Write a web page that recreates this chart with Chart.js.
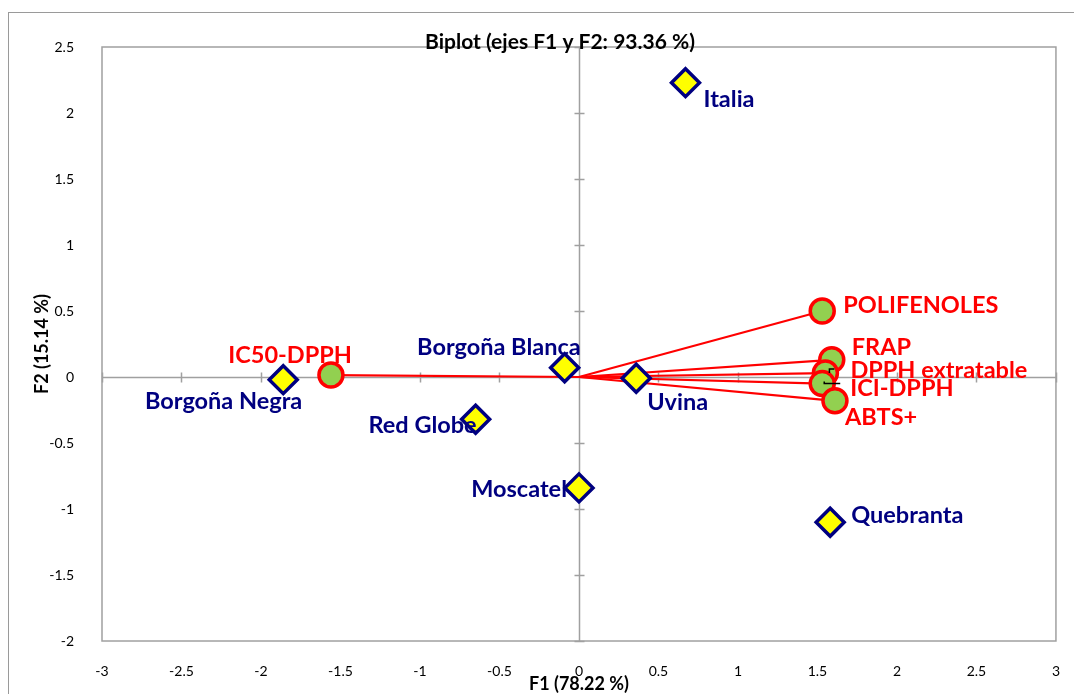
<!DOCTYPE html>
<html>
<head>
<meta charset="utf-8">
<script src="https://cdn.jsdelivr.net/npm/chart.js@4/dist/chart.umd.min.js"></script>
<style>
  html, body { margin: 0; padding: 0; background: #fff; }
  #wrap { width: 1074px; height: 694px; position: relative; }
</style>
</head>
<body>
<div id="wrap"><canvas id="biplot"></canvas></div>
<script>
// observaciones (variedades)
const obsNames = ['Italia', 'Borgoña Negra', 'Borgoña Blanca', 'Red Globe', 'Moscatel', 'Uvina', 'Quebranta'];
const obsF1 = [0.67, -1.86, -0.09, -0.65, 0.0, 0.36, 1.58];
const obsF2 = [2.23, -0.02, 0.07, -0.32, -0.84, -0.01, -1.10];

// variables (vectores desde el origen)
const varNames = ['IC50-DPPH', 'POLIFENOLES', 'FRAP', 'DPPH extratable', 'ICI-DPPH', 'ABTS+'];
const varF1 = [-1.56, 1.53, 1.59, 1.55, 1.53, 1.61];
const varF2 = [0.015, 0.50, 0.13, 0.03, -0.05, -0.18];

const xTicks = [-3, -2.5, -2, -1.5, -1, -0.5, 0, 0.5, 1, 1.5, 2, 2.5, 3];
const yTicks = [-2, -1.5, -1, -0.5, 0, 0.5, 1, 1.5, 2, 2.5];

const titleText = 'Biplot (ejes F1 y F2: 93.36 %)';
const xTitle = 'F1 (78.22 %)';
const yTitle = 'F2 (15.14 %)';

// donde va cada etiqueta respecto a su punto: [dx, dy, align]
const labelPos = {
    'Italia': [18, 17, 'left'],
    'Borgoña Negra': [19, 22, 'right'],
    'Borgoña Blanca': [16, -20, 'right'],
    'Red Globe': [1, 6, 'right'],
    'Moscatel': [-12, 2, 'right'],
    'Uvina': [11, 24, 'left'],
    'Quebranta': [21, -7, 'left'],
    'IC50-DPPH': [21, -20, 'right'],
    'POLIFENOLES': [21, -6, 'left'],
    'FRAP': [20, -12, 'left'],
    'DPPH extratable': [25, -3, 'left'],
    'ICI-DPPH': [28, 5, 'left'],
    'ABTS+': [10, 17, 'left']
};
// lineas guia (negras) de algunas etiquetas
const leaders = {
    'DPPH extratable': [[4, 0], [4, -4], [9, -4]],
    'ICI-DPPH': [[2, -2], [2, 0], [18, 0]]
};

const NAVY = '#000080';
const RED = '#FF0000';
const AXIS_GREY = '#A0A0A0';

const vectorSets = varNames.map((n, i) => ({
    type: 'scatter',
    label: 'v-' + n,
    data: [{x: 0, y: 0}, {x: varF1[i], y: varF2[i]}],
    showLine: true,
    borderColor: RED,
    borderWidth: 2.25,
    pointRadius: 0,
    order: 3
}));

const frame = {
    id: 'frame',
    beforeDatasetsDraw(chart) {
        const {ctx, chartArea: a, scales: {x, y}} = chart;
        ctx.save();
        // borde exterior del grafico
        ctx.strokeStyle = '#9a9a9a';
        ctx.lineWidth = 1;
        ctx.strokeRect(8.5, 12.5, 1200, 900);
        // area de trazado
        ctx.strokeStyle = AXIS_GREY;
        ctx.lineWidth = 1.5;
        ctx.strokeRect(a.left, a.top, a.right - a.left, a.bottom - a.top);
        // ejes que pasan por cero
        const x0 = Math.round(x.getPixelForValue(0)) + 0.5;
        const y0 = Math.round(y.getPixelForValue(0)) + 0.5;
        ctx.beginPath();
        ctx.moveTo(x0, a.top); ctx.lineTo(x0, a.bottom);
        ctx.moveTo(a.left, y0); ctx.lineTo(a.right, y0);
        xTicks.forEach(v => {
            const px = Math.round(x.getPixelForValue(v)) + 0.5;
            ctx.moveTo(px, y0 - 5); ctx.lineTo(px, y0 + 5);
        });
        yTicks.forEach(v => {
            const py = Math.round(y.getPixelForValue(v)) + 0.5;
            ctx.moveTo(x0 - 5, py); ctx.lineTo(x0 + 5, py);
        });
        ctx.stroke();
        ctx.restore();
    },
    afterDraw(chart) {
        const {ctx, chartArea: a} = chart;
        ctx.save();
        ctx.fillStyle = '#000';
        ctx.textAlign = 'center';
        ctx.textBaseline = 'middle';
        ctx.font = 'bold 21px Lato';
        ctx.fillText(titleText, 560, 42);
        ctx.font = 'bold 18px Lato';
        ctx.fillText(xTitle, (a.left + a.right) / 2, 684);
        ctx.translate(42, (a.top + a.bottom) / 2);
        ctx.rotate(-Math.PI / 2);
        ctx.fillText(yTitle, 0, 0);
        ctx.restore();
    }
};

const pointLabels = {
    id: 'pointLabels',
    afterDatasetsDraw(chart) {
        const ctx = chart.ctx;
        ctx.save();
        ctx.font = 'bold 23.5px Lato';
        ctx.textBaseline = 'middle';
        const draw = (dsIndex, names, color) => {
            const meta = chart.getDatasetMeta(dsIndex);
            names.forEach((n, i) => {
                const p = meta.data[i];
                const pos = labelPos[n];
                if (leaders[n]) {
                    ctx.strokeStyle = '#000';
                    ctx.lineWidth = 1.5;
                    ctx.beginPath();
                    leaders[n].forEach((q, k) => {
                        if (k === 0) ctx.moveTo(p.x + q[0], p.y + q[1]);
                        else ctx.lineTo(p.x + q[0], p.y + q[1]);
                    });
                    ctx.stroke();
                }
                ctx.fillStyle = color;
                ctx.textAlign = pos[2];
                ctx.fillText(n, p.x + pos[0], p.y + pos[1]);
            });
        };
        const nv = vectorSets.length;
        draw(nv, varNames, RED);
        draw(nv + 1, obsNames, NAVY);
        ctx.restore();
    }
};

const tickFont = {family: 'Lato', size: 14};

new Chart(document.getElementById('biplot'), {
    type: 'scatter',
    data: {
        datasets: [
            ...vectorSets,
            {
                label: 'Variables',
                data: varF1.map((v, i) => ({x: v, y: varF2[i]})),
                backgroundColor: '#92D050',
                borderColor: RED,
                borderWidth: 3.5,
                pointRadius: 12,
                order: 2
            },
            {
                label: 'Observaciones',
                data: obsF1.map((v, i) => ({x: v, y: obsF2[i]})),
                pointStyle: 'rectRot',
                backgroundColor: '#FFFF00',
                borderColor: NAVY,
                borderWidth: 3.5,
                pointRadius: 14,
                order: 1
            }
        ]
    },
    options: {
        responsive: true,
        maintainAspectRatio: false,
        animation: false,
        layout: {padding: {top: 47, right: 13, left: 0, bottom: 0}},
        plugins: {
            legend: {display: false},
            tooltip: {enabled: false}
        },
        scales: {
            x: {
                type: 'linear',
                min: -3, max: 3,
                grid: {display: false},
                border: {display: false},
                afterFit: s => { s.height = 53; },
                afterBuildTicks: s => { s.ticks = xTicks.map(v => ({value: v})); },
                ticks: {
                    padding: 14,
                    color: '#000',
                    font: tickFont,
                    callback: v => String(v)
                }
            },
            y: {
                type: 'linear',
                min: -2, max: 2.5,
                grid: {display: false},
                border: {display: false},
                afterFit: s => { s.width = 102; },
                afterBuildTicks: s => { s.ticks = yTicks.map(v => ({value: v})); },
                ticks: {
                    padding: 20,
                    color: '#000',
                    font: tickFont,
                    callback: v => String(v)
                }
            }
        }
    },
    plugins: [frame, pointLabels]
});
</script>
</body>
</html>
